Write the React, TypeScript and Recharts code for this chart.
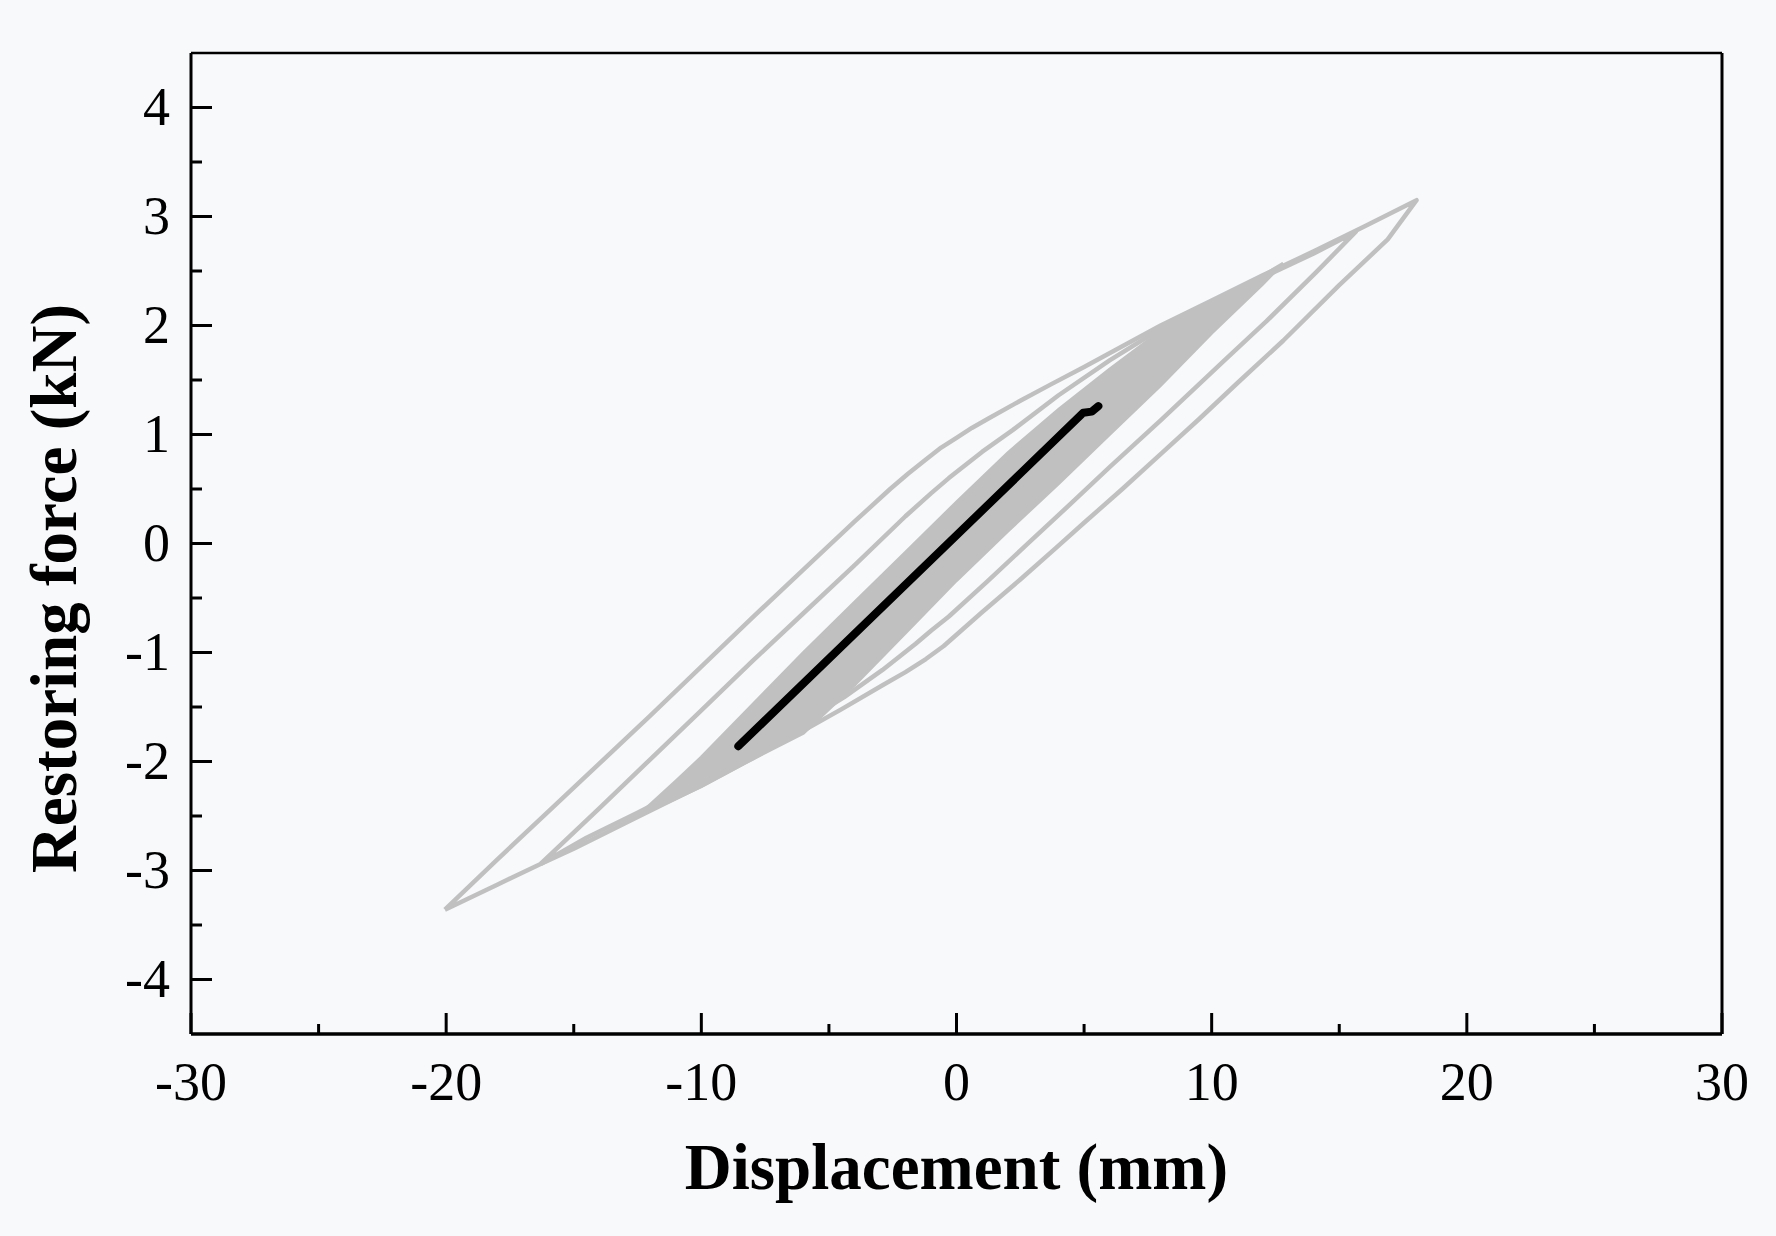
import { ComposedChart, Line, Area, XAxis, YAxis, ReferenceLine } from 'recharts'

// axis ticks (majors get labels)
const X_TICKS = [-30, -25, -20, -15, -10, -5, 0, 5, 10, 15, 20, 25, 30]
const Y_TICKS = [-4, -3.5, -3, -2.5, -2, -1.5, -1, -0.5, 0, 0.5, 1, 1.5, 2, 2.5, 3, 3.5, 4]

// outer loop, loading branch then unloading branch [mm, kN]
const LOOP_A_UP = [
  [-20.05, -3.36], [-18, -2.9], [-16, -2.46], [-14, -2.02], [-12, -1.58], [-10, -1.13],
  [-8, -0.68], [-6, -0.24], [-4, 0.2], [-2.6, 0.5], [-1.9, 0.64], [-1.2, 0.77], [-0.6, 0.88],
  [0, 0.97], [0.6, 1.06], [1.2, 1.14], [2.5, 1.31], [3.7, 1.46], [5, 1.62], [6.5, 1.81],
  [8, 2.0], [10, 2.23], [12, 2.46], [14, 2.68], [16, 2.91], [18.03, 3.15],
]
const LOOP_A_DOWN = [
  [18.03, 3.15], [16.9, 2.79], [15, 2.37], [12.8, 1.86], [11, 1.47], [9.5, 1.14], [8, 0.82],
  [6.5, 0.5], [5, 0.19], [3.9, -0.04], [2.5, -0.33], [1, -0.63], [-0.5, -0.94], [-1.2, -1.06],
  [-2, -1.18], [-2.9, -1.3], [-4.5, -1.52], [-6.1, -1.73], [-8, -1.97], [-10, -2.22],
  [-12.5, -2.51], [-15, -2.8], [-16.3, -2.94], [-18, -3.13], [-20.05, -3.36],
]

// second loop
const LOOP_B_UP = [
  [-16.3, -2.94], [-14, -2.43], [-12, -1.98], [-10, -1.53], [-8, -1.08], [-6, -0.64],
  [-4, -0.2], [-2, 0.25], [-1, 0.46], [-0.3, 0.6], [0.4, 0.73], [1, 0.84], [2.2, 1.04],
  [4, 1.36], [6, 1.68], [8, 1.97], [10, 2.21], [12, 2.44], [14, 2.66], [15.65, 2.86],
]
const LOOP_B_DOWN = [
  [15.65, 2.86], [14.1, 2.49], [12.15, 2.04], [10.5, 1.68], [9.5, 1.46], [8, 1.13], [6, 0.7],
  [4.5, 0.37], [2.75, -0.01], [1.2, -0.35], [-0.3, -0.67], [-1, -0.8], [-1.6, -0.92],
  [-2.9, -1.16], [-4.4, -1.41], [-6.2, -1.67], [-8, -1.91], [-10, -2.17], [-12.5, -2.47],
  [-14.5, -2.7], [-16.3, -2.94],
]

// dense inner cycles, drawn as a filled band
const BAND_X = [-12.5, -11, -10, -8, -6, -4, -2, 0, 2, 4, 6, 8, 10, 12, 12.8]
const BAND_LO = [-2.5, -2.34, -2.23, -1.98, -1.74, -1.3, -0.82, -0.34, 0.11, 0.55, 1.0, 1.45, 1.93, 2.38, 2.57]
const BAND_HI = [-2.5, -2.18, -1.96, -1.48, -1.0, -0.54, -0.08, 0.38, 0.83, 1.23, 1.6, 1.95, 2.22, 2.46, 2.57]

// black trace
const BLACK_PATH = [[-8.55, -1.86], [4.97, 1.2], [5.3, 1.21], [5.56, 1.26]]

const GRAY = '#c0c0c0'
const FONT = '"Liberation Serif", "Times New Roman", serif'

const toPts = (arr: number[][]) => arr.map(([x, y]) => ({ x, y }))

const loopA = toPts([...LOOP_A_UP, ...LOOP_A_DOWN])
const loopB = toPts([...LOOP_B_UP, ...LOOP_B_DOWN])
const black = toPts(BLACK_PATH)
const band = BAND_X.map((x, i) => ({ x, range: [BAND_LO[i], BAND_HI[i]] }))

function XTick({ x, y, payload }: any) {
  const v = payload.value
  const major = v % 10 === 0
  return (
    <g>
      <line x1={x} y1={y} x2={x} y2={y - (major ? 21 : 10)} stroke="#000" strokeWidth={3} />
      {major && (
        <text x={x} y={y + 66} textAnchor="middle" fontSize={54} fontFamily={FONT} fill="#000">
          {String(v)}
        </text>
      )}
    </g>
  )
}

function YTick({ x, y, payload }: any) {
  const v = payload.value
  const major = Number.isInteger(v)
  return (
    <g>
      <line x1={x} y1={y} x2={x + (major ? 21 : 11)} y2={y} stroke="#000" strokeWidth={3} />
      {major && (
        <text x={x - 21} y={y + 17} textAnchor="end" fontSize={54} fontFamily={FONT} fill="#000">
          {String(v)}
        </text>
      )}
    </g>
  )
}

function YTitle({ viewBox }: any) {
  const cx = viewBox.x + 76
  const cy = viewBox.y + viewBox.height / 2 + 45
  return (
    <text
      x={cx}
      y={cy}
      transform={`rotate(-90, ${cx}, ${cy})`}
      textAnchor="middle"
      fontSize={65}
      fontWeight={700}
      fontFamily={FONT}
      fill="#000"
    >
      Restoring force (kN)
    </text>
  )
}

export default function App() {
  return (
    <div style={{ position: 'absolute', left: 0, top: 0, width: 1776, height: 1236, background: '#f7f9fb' }}>
      <ComposedChart width={1776} height={1236} margin={{ top: 53, right: 54, bottom: 0, left: 0 }}>
        <XAxis
          dataKey="x"
          type="number"
          domain={[-30, 30]}
          ticks={X_TICKS}
          interval={0}
          tickSize={0}
          tickMargin={0}
          tickLine={false}
          tick={<XTick />}
          height={202}
          axisLine={{ stroke: '#000', strokeWidth: 3.5 }}
          label={{
            value: 'Displacement (mm)',
            position: 'insideBottom',
            offset: 47,
            fill: '#000',
            fontSize: 65,
            fontWeight: 700,
            fontFamily: FONT,
          }}
        />
        <YAxis
          type="number"
          domain={[-4.5, 4.5]}
          ticks={Y_TICKS}
          interval={0}
          tickSize={0}
          tickMargin={0}
          tickLine={false}
          tick={<YTick />}
          width={191}
          axisLine={{ stroke: '#000', strokeWidth: 3 }}
          label={{ content: <YTitle /> }}
        />
        {/* frame: top and right edges */}
        <ReferenceLine y={4.5} stroke="#000" strokeWidth={2.5} />
        <ReferenceLine x={30} stroke="#000" strokeWidth={3} />
        <Area
          data={band}
          dataKey="range"
          type="linear"
          stroke={GRAY}
          strokeWidth={3}
          fill={GRAY}
          fillOpacity={1}
          dot={false}
          activeDot={false}
          isAnimationActive={false}
        />
        <Line data={loopA} dataKey="y" type="linear" stroke={GRAY} strokeWidth={4.5} strokeLinejoin="round" dot={false} activeDot={false} isAnimationActive={false} />
        <Line data={loopB} dataKey="y" type="linear" stroke={GRAY} strokeWidth={4.5} strokeLinejoin="round" dot={false} activeDot={false} isAnimationActive={false} />
        <Line
          data={black}
          dataKey="y"
          type="linear"
          stroke="#000"
          strokeWidth={8}
          strokeLinecap="round"
          strokeLinejoin="round"
          dot={false}
          activeDot={false}
          isAnimationActive={false}
        />
      </ComposedChart>
    </div>
  )
}
